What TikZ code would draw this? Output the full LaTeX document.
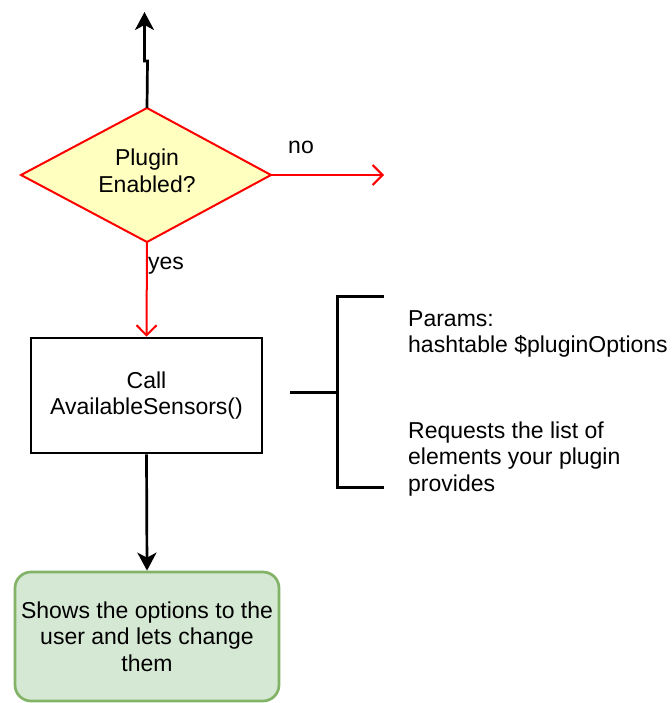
\documentclass[tikz,border=0pt]{standalone}
\usepackage{fontspec}
\setmainfont{Liberation Sans}
\usetikzlibrary{arrows.meta}
\definecolor{decfill}{HTML}{FFFFC0}
\definecolor{decred}{HTML}{FF0000}
\definecolor{greenfill}{HTML}{D5E8D4}
\definecolor{greenline}{HTML}{82B366}
\begin{document}
\begin{tikzpicture}[x=1pt,y=-1pt,
  every node/.style={font=\fontsize{23}{26.5}\selectfont, inner sep=0pt},
  blk/.style={draw=black, line width=2.7pt, -{Stealth[length=18pt,width=19pt,inset=5pt]}},
  redarrow/.style={draw=decred, line width=2pt, -{Straight Barb[length=10pt,width=20pt,line width=2pt]}},
  decision/.style={draw=decred, fill=decfill, line width=2pt, line join=miter},
  procbox/.style={draw=black, line width=2.7pt, minimum width=231pt, minimum height=115pt, align=center},
  greenbox/.style={draw=greenline, fill=greenfill, line width=2.7pt, rounded corners=16pt, minimum width=264pt, minimum height=129pt, align=center},
  bracket/.style={draw=black, line width=3pt},
  note/.style={align=left, anchor=west}
]
\useasboundingbox (0,0) rectangle (671,703);

% decision diamond
\coordinate (dectop) at (147,108);
\coordinate (decright) at (271,175);
\coordinate (decbottom) at (147,242);
\coordinate (decleft) at (21,175);
\draw[decision] (dectop) -- (decright) -- (decbottom) -- (decleft) -- cycle;
\node[align=center] (dec) at (147,171) {Plugin\\Enabled?};

% top exit arrow
\coordinate (jog1) at (147.5,61);
\coordinate (jog2) at (144.5,61);
\coordinate (topend) at (144.5,12);
\draw[blk] (dectop) -- (jog1) -- (jog2) -- (topend);

% no branch
\coordinate (noend) at (384,175);
\draw[redarrow] (decright) -- (noend);
\node (nolabel) at (301,147) {no};

% process box
\node[procbox] (call) at (146.5,395.5) {Call\\AvailableSensors()};

% yes branch
\draw[redarrow] (decbottom) -- (call.north);
\node (yeslabel) at (166,266) {yes};

% result box
\node[greenbox] (show) at (147,636.5) {Shows the options to the\\user and lets change\\them};
\draw[blk] (call.south) -- (show.north);

% bracket
\coordinate (bl) at (290,392);
\coordinate (bm) at (337,392);
\coordinate (bt) at (337,296);
\coordinate (btr) at (384,296);
\coordinate (bb) at (337,487);
\coordinate (bbr) at (384,487);
\draw[bracket] (bl) -- (bm);
\draw[bracket] (btr) -- (bt) -- (bb) -- (bbr);

\node[note] (params) at (408,334) {Params:\\hashtable \$pluginOptions};
\node[note] (requests) at (408,459) {Requests the list of\\elements your plugin\\provides};
\end{tikzpicture}
\end{document}
